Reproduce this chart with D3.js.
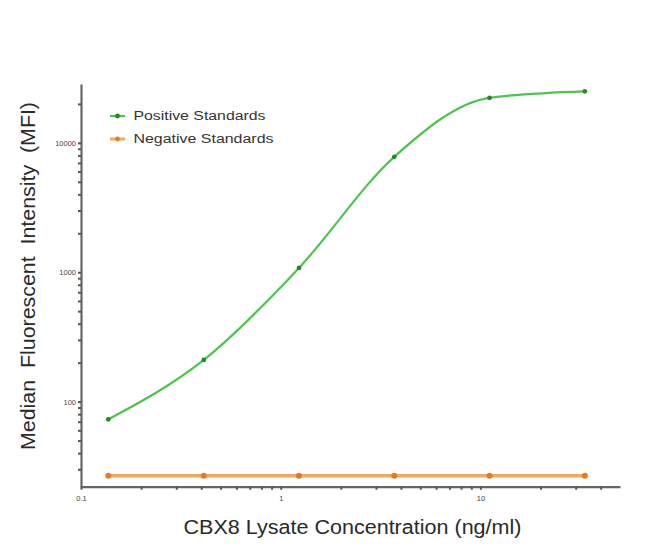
<!DOCTYPE html>
<html><head><meta charset="utf-8">
<script src="https://cdn.jsdelivr.net/npm/d3@7"></script>
<style>body{margin:0;background:#fff}</style>
</head><body><svg id="c" width="650" height="548"></svg>
<script>
const concentrations = [0.137, 0.412, 1.235, 3.704, 11.11, 33.33];
const positiveMFI = [73, 210, 1080, 7800, 22300, 25000];
const negativeMFI = [26.7, 26.7, 26.7, 26.7, 26.7, 26.7];
const seriesNames = ["Positive Standards", "Negative Standards"];
const xMajorTicks = [0.1, 1, 10];
const xTickLabels = ["0.1", "1", "10"];
const yMajorTicks = [100, 1000, 10000];
const yTickLabels = ["100", "1000", "10000"];
const xTitle = "CBX8 Lysate Concentration (ng/ml)";
const yTitle = "Median  Fluorescent  Intensity  (MFI)";

const svg = d3.select("#c");
const x = d3.scaleLog().domain([0.1, 50]).range([81, 620]);
const y = d3.scaleLog().domain([22, 28500]).range([486.7, 84]);

const axisColor = "#666";
const font = "'Liberation Sans', Arial, sans-serif";

// minor ticks
const xMinor = [];
[0.1, 1, 10].forEach(d => { for (let k = 2; k <= 9; k++) { const v = d * k; if (v < 50) xMinor.push(+v.toPrecision(3)); } });
const yMinor = [];
[10, 100, 1000, 10000].forEach(d => { for (let k = 2; k <= 9; k++) { const v = d * k; if (v > 22 && v < 28500) yMinor.push(v); } });

const xAxis = d3.axisBottom(x).tickValues(xMajorTicks.concat(xMinor))
  .tickSize(3).tickSizeOuter(0).tickPadding(6)
  .tickFormat(d => { const i = xMajorTicks.indexOf(d); return i >= 0 ? xTickLabels[i] : ""; });
const gx = svg.append("g").attr("transform", "translate(0,486.7)").call(xAxis);

const yAxis = d3.axisLeft(y).tickValues(yMajorTicks.concat(yMinor))
  .tickSize(3).tickSizeOuter(0).tickPadding(2)
  .tickFormat(d => { const i = yMajorTicks.indexOf(d); return i >= 0 ? yTickLabels[i] : ""; });
const gy = svg.append("g").attr("transform", "translate(81,0)").call(yAxis);

[gx, gy].forEach(g => {
  g.select(".domain").attr("stroke", axisColor).attr("stroke-width", 2.2);
  g.selectAll(".tick line").attr("stroke", "#555").attr("stroke-width", 2);
  g.selectAll(".tick text").attr("fill", "#444").attr("font-family", font).attr("font-size", 7.5);
});
gy.selectAll(".tick text").attr("font-size", 7.5);

// negative series
const line = d3.line().x(d => x(d[0])).y(d => y(d[1]));
const negData = concentrations.map((c, i) => [c, negativeMFI[i]]);
svg.append("path").datum(negData).attr("d", line).attr("fill", "none")
  .attr("stroke", "#f6a95e").attr("stroke-width", 3.5);
svg.append("g").selectAll("circle").data(negData).join("circle")
  .attr("cx", d => x(d[0])).attr("cy", d => y(d[1])).attr("r", 3).attr("fill", "#e67c22");

// positive series
const posData = concentrations.map((c, i) => [c, positiveMFI[i]]);
const curve = d3.line().x(d => x(d[0])).y(d => y(d[1])).curve(d3.curveMonotoneX);
svg.append("path").datum(posData).attr("d", curve).attr("fill", "none")
  .attr("stroke", "#4cc54c").attr("stroke-width", 2.2);
svg.append("g").selectAll("circle").data(posData).join("circle")
  .attr("cx", d => x(d[0])).attr("cy", d => y(d[1])).attr("r", 2.4).attr("fill", "#23892a");

// legend
const legend = [
  { name: seriesNames[0], line: "#4cc54c", dot: "#23892a", y: 116, w: 2.2, tl: 132 },
  { name: seriesNames[1], line: "#f6a95e", dot: "#e67c22", y: 139, w: 3, tl: 140 }
];
const lg = svg.append("g");
legend.forEach(l => {
  lg.append("line").attr("x1", 110).attr("x2", 125).attr("y1", l.y).attr("y2", l.y)
    .attr("stroke", l.line).attr("stroke-width", l.w);
  lg.append("circle").attr("cx", 117.5).attr("cy", l.y).attr("r", 2.4).attr("fill", l.dot);
  lg.append("text").attr("x", 133.5).attr("y", l.y + 4.2).text(l.name)
    .attr("font-family", font).attr("font-size", 12).attr("fill", "#333")
    .attr("textLength", l.tl).attr("lengthAdjust", "spacingAndGlyphs");
});

// titles
svg.append("text").attr("x", 352.5).attr("y", 534).attr("text-anchor", "middle")
  .attr("font-family", font).attr("font-size", 19.5).attr("fill", "#2a2a2a")
  .attr("textLength", 338).attr("lengthAdjust", "spacingAndGlyphs").text(xTitle);
svg.append("text").attr("transform", "translate(34.5,276) rotate(-90)").attr("text-anchor", "middle")
  .style("white-space", "pre")
  .attr("font-family", font).attr("font-size", 19.5).attr("fill", "#2a2a2a")
  .attr("textLength", 348).attr("lengthAdjust", "spacingAndGlyphs").text(yTitle);
</script></body></html>
